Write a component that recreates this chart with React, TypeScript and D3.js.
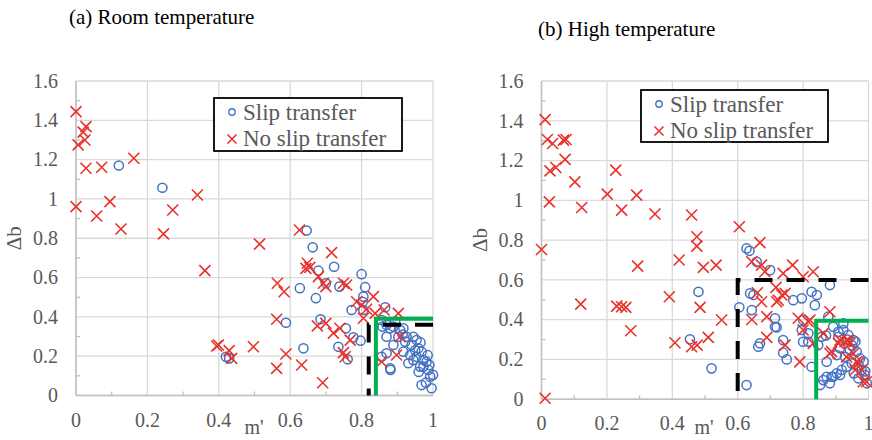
import React from 'react'
import * as d3 from 'd3'

// (a) room temperature, [m', Δb]
const roomSlip: [number, number][] = [
  [0.12, 1.17], [0.242, 1.057], [0.646, 0.839], [0.663, 0.754], [0.679, 0.635], [0.723, 0.655],
  [0.8, 0.617], [0.627, 0.546], [0.672, 0.495], [0.7, 0.571], [0.738, 0.554], [0.81, 0.551],
  [0.805, 0.503], [0.803, 0.477], [0.772, 0.435], [0.805, 0.435], [0.866, 0.449], [0.588, 0.37],
  [0.685, 0.388], [0.756, 0.342], [0.777, 0.296], [0.797, 0.279], [0.735, 0.248], [0.761, 0.184],
  [0.42, 0.197], [0.429, 0.189], [0.637, 0.24], [0.881, 0.13], [0.87, 0.215], [0.856, 0.197],
  [0.859, 0.35], [0.88, 0.342], [0.917, 0.342], [0.926, 0.299], [0.87, 0.359], [0.889, 0.35],
  [0.908, 0.333], [0.87, 0.299], [0.889, 0.257], [0.922, 0.274], [0.94, 0.257], [0.959, 0.24],
  [0.968, 0.223], [0.954, 0.197], [0.973, 0.181], [0.936, 0.206], [0.931, 0.164], [0.973, 0.147],
  [0.987, 0.13], [0.992, 0.096], [0.968, 0.053], [0.996, 0.037], [0.88, 0.138], [0.917, 0.223],
  [0.903, 0.299], [0.954, 0.282], [0.945, 0.299], [0.982, 0.172], [0.964, 0.147], [0.95, 0.23],
  [0.965, 0.27], [0.945, 0.18], [0.985, 0.205], [0.99, 0.155], [1.0, 0.105], [0.98, 0.065],
  [0.915, 0.31], [0.96, 0.12], [0.856, 0.384], [0.894, 0.376],
]
const roomNoSlip: [number, number][] = [
  [0.0, 1.444], [0.028, 1.368], [0.02, 1.34], [0.025, 1.3], [0.006, 1.275], [0.028, 1.156],
  [0.072, 1.161], [0.162, 1.207], [0.0, 0.961], [0.058, 0.913], [0.095, 0.986], [0.126, 0.847],
  [0.245, 0.822], [0.271, 0.944], [0.34, 1.02], [0.361, 0.635], [0.394, 0.252], [0.626, 0.842],
  [0.514, 0.77], [0.716, 0.727], [0.648, 0.673], [0.644, 0.647], [0.655, 0.652], [0.679, 0.605],
  [0.564, 0.571], [0.583, 0.528], [0.693, 0.571], [0.7, 0.554], [0.749, 0.571], [0.758, 0.562],
  [0.786, 0.477], [0.833, 0.503], [0.8, 0.46], [0.814, 0.439], [0.838, 0.418], [0.863, 0.435],
  [0.903, 0.418], [0.805, 0.393], [0.562, 0.388], [0.676, 0.354], [0.7, 0.367], [0.721, 0.317],
  [0.739, 0.342], [0.768, 0.282], [0.749, 0.218], [0.754, 0.197], [0.399, 0.257], [0.429, 0.228],
  [0.436, 0.189], [0.497, 0.248], [0.588, 0.211], [0.562, 0.138], [0.632, 0.155], [0.691, 0.065],
  [0.856, 0.172], [0.898, 0.206], [0.908, 0.299],
]

// (b) high temperature
const highSlip: [number, number][] = [
  [0.627, 0.758], [0.636, 0.746], [0.658, 0.691], [0.699, 0.649], [0.882, 0.574], [0.48, 0.54],
  [0.605, 0.462], [0.638, 0.532], [0.648, 0.524], [0.643, 0.448], [0.714, 0.407], [0.719, 0.361],
  [0.77, 0.498], [0.796, 0.507], [0.826, 0.54], [0.842, 0.524], [0.836, 0.473], [0.8, 0.398],
  [0.796, 0.348], [0.668, 0.281], [0.663, 0.264], [0.739, 0.297], [0.739, 0.234], [0.75, 0.2],
  [0.52, 0.155], [0.454, 0.301], [0.627, 0.071], [0.846, 0.272], [0.872, 0.188], [0.852, 0.071],
  [0.862, 0.096], [0.892, 0.113], [0.913, 0.122], [0.877, 0.415], [0.714, 0.364], [0.8, 0.289],
  [0.816, 0.289], [0.816, 0.331], [0.826, 0.163], [0.857, 0.314], [0.872, 0.113], [0.887, 0.113],
  [0.903, 0.13], [0.882, 0.08], [0.918, 0.147], [0.933, 0.163], [0.949, 0.18], [0.908, 0.339],
  [0.923, 0.348], [0.938, 0.323], [0.954, 0.297], [0.943, 0.247], [0.964, 0.239], [0.974, 0.205],
  [0.979, 0.147], [0.989, 0.122], [0.995, 0.08], [0.969, 0.105], [0.913, 0.256], [0.928, 0.213],
  [0.903, 0.222], [0.923, 0.381], [0.892, 0.364], [0.908, 0.314], [0.95, 0.27], [0.97, 0.17],
  [0.985, 0.19], [0.96, 0.29], [0.99, 0.14], [0.935, 0.3], [0.955, 0.13], [0.87, 0.32],
]
const highNoSlip: [number, number][] = [
  [0.011, 1.406], [0.018, 1.306], [0.034, 1.286], [0.067, 1.303], [0.075, 1.306], [0.072, 1.206],
  [0.026, 1.148], [0.044, 1.165], [0.102, 1.093], [0.024, 0.992], [0.123, 0.964], [0.201, 1.031],
  [0.227, 1.152], [0.245, 0.951], [0.291, 1.026], [0.347, 0.931], [0.0, 0.753], [0.12, 0.478],
  [0.23, 0.468], [0.245, 0.465], [0.258, 0.462], [0.273, 0.344], [0.294, 0.669], [0.011, 0.005],
  [0.459, 0.926], [0.475, 0.817], [0.475, 0.77], [0.605, 0.867], [0.668, 0.787], [0.421, 0.7],
  [0.495, 0.663], [0.534, 0.674], [0.643, 0.691], [0.673, 0.674], [0.683, 0.641], [0.739, 0.633],
  [0.768, 0.674], [0.8, 0.616], [0.831, 0.641], [0.391, 0.515], [0.485, 0.462], [0.551, 0.398],
  [0.66, 0.535], [0.673, 0.49], [0.643, 0.401], [0.689, 0.415], [0.717, 0.562], [0.724, 0.498],
  [0.745, 0.532], [0.785, 0.407], [0.816, 0.39], [0.689, 0.311], [0.745, 0.272], [0.79, 0.188],
  [0.408, 0.284], [0.459, 0.264], [0.476, 0.272], [0.51, 0.311], [0.862, 0.331], [0.882, 0.23],
  [0.908, 0.281], [0.938, 0.297], [0.954, 0.23], [0.969, 0.18], [0.979, 0.147], [0.994, 0.088],
  [0.735, 0.524], [0.719, 0.49], [0.882, 0.44], [0.8, 0.348], [0.821, 0.398], [0.831, 0.281],
  [0.887, 0.239], [0.913, 0.297], [0.928, 0.289], [0.943, 0.281], [0.933, 0.213], [0.964, 0.188],
  [0.959, 0.147], [0.984, 0.088],
]

// threshold boxes: [m', Δb] corners
const roomBlack: [number, number][] = [[1, 0.36], [0.82, 0.36], [0.82, 0]]
const roomGreen: [number, number][] = [[1, 0.39], [0.84, 0.39], [0.84, 0]]
const highBlack: [number, number][] = [[1, 0.6], [0.6, 0.6], [0.6, 0]]
const highGreen: [number, number][] = [[1, 0.395], [0.84, 0.395], [0.84, 0]]

const xTicks = [0, 0.2, 0.4, 0.6, 0.8, 1]
const yTicks = [0, 0.2, 0.4, 0.6, 0.8, 1, 1.2, 1.4, 1.6]
const minorX = [0.1, 0.3, 0.5, 0.7, 0.9]
const minorY = [0.1, 0.3, 0.5, 0.7, 0.9, 1.1, 1.3, 1.5]

const FONT = 'Liberation Serif'
const GRAY = '#595959'
const RED = '#e8322b'
const BLUE = '#4472c4'

function Cross({ x, y, s }: { x: number; y: number; s: number }) {
  return (
    <path d={`M${x - s},${y - s}L${x + s},${y + s}M${x - s},${y + s}L${x + s},${y - s}`}
      stroke={RED} strokeWidth={1.6} fill="none" />
  )
}

function Panel(props: {
  left: number; right: number; top: number; bottom: number
  title: string; titleX: number; titleY: number; labelX: number
  slip: [number, number][]; noSlip: [number, number][]
  black: [number, number][]; green: [number, number][]
  legend: { x: number; y: number; w: number; h: number }
}) {
  const { left, right, top, bottom, slip, noSlip, black, green, legend } = props
  const x = d3.scaleLinear().domain([0, 1]).range([left, right])
  const y = d3.scaleLinear().domain([0, 1.6]).range([bottom, top])
  const line = d3.line<[number, number]>().x(d => x(d[0])).y(d => y(d[1]))

  return (
    <g>
      <text x={props.titleX} y={props.titleY} fontFamily={FONT} fontSize={21} fill="#000">{props.title}</text>
      {xTicks.map(t => (
        <line key={'gx' + t} x1={x(t)} x2={x(t)} y1={top} y2={bottom} stroke="#d9d9d9" strokeWidth={1.3} />
      ))}
      {yTicks.map(t => (
        <line key={'gy' + t} x1={left} x2={right} y1={y(t)} y2={y(t)} stroke="#d9d9d9" strokeWidth={1.3} />
      ))}
      <line x1={left} x2={left} y1={top} y2={bottom} stroke="#bfbfbf" strokeWidth={1.5} />
      <line x1={left} x2={right} y1={bottom} y2={bottom} stroke="#bfbfbf" strokeWidth={1.5} />
      {minorX.map(t => (
        <line key={'mx' + t} x1={x(t)} x2={x(t)} y1={bottom} y2={bottom - 4} stroke="#bfbfbf" strokeWidth={1.3} />
      ))}
      {minorY.map(t => (
        <line key={'my' + t} x1={left} x2={left + 4} y1={y(t)} y2={y(t)} stroke="#bfbfbf" strokeWidth={1.3} />
      ))}
      {xTicks.map(t => (
        <text key={'tx' + t} x={x(t)} y={bottom + 31} textAnchor="middle" fontFamily={FONT} fontSize={20} fill={GRAY}>
          {d3.format('~g')(t)}
        </text>
      ))}
      {yTicks.map(t => (
        <text key={'ty' + t} x={left - 18} y={y(t)} dy="0.34em" textAnchor="end" fontFamily={FONT} fontSize={20} fill={GRAY}>
          {d3.format('~g')(t)}
        </text>
      ))}
      <text transform={`translate(${left - 55},${(top + bottom) / 2}) rotate(-90)`} textAnchor="middle"
        fontFamily={FONT} fontSize={21} fill={GRAY}>Δb</text>
      <text x={props.labelX} y={434} textAnchor="middle"
        fontFamily={FONT} fontSize={20} fill={GRAY}>m'</text>

      {slip.map((d, i) => (
        <circle key={'s' + i} cx={x(d[0])} cy={y(d[1])} r={4.6} fill="none" stroke={BLUE} strokeWidth={1.5} />
      ))}
      {noSlip.map((d, i) => (
        <Cross key={'n' + i} x={x(d[0])} y={y(d[1])} s={5.5} />
      ))}

      <path d={line(black) || ''} fill="none" stroke="#000" strokeWidth={4} strokeDasharray="18 14" />
      <path d={line(green) || ''} fill="none" stroke="#00b050" strokeWidth={4} />

      <rect x={legend.x} y={legend.y} width={legend.w} height={legend.h} fill="#fff" stroke="#000" strokeWidth={1.8} />
      <circle cx={legend.x + 18} cy={legend.y + 14} r={3.2} fill="none" stroke={BLUE} strokeWidth={1.4} />
      <text x={legend.x + 29} y={legend.y + 21.5} fontFamily={FONT} fontSize={23} fill={GRAY}>Slip transfer</text>
      <Cross x={legend.x + 18} y={legend.y + 41} s={4.5} />
      <text x={legend.x + 29} y={legend.y + 47.5} fontFamily={FONT} fontSize={23} fill={GRAY}>No slip transfer</text>
    </g>
  )
}

export default function App() {
  return (
    <svg width={872} height={440} style={{ position: 'absolute', left: 0, top: 0, background: '#fff' }}>
      <Panel left={76} right={433} top={81} bottom={395.5}
        title="(a) Room temperature" titleX={69} titleY={24} labelX={254}
        slip={roomSlip} noSlip={roomNoSlip} black={roomBlack} green={roomGreen}
        legend={{ x: 214, y: 98, w: 188, h: 53 }} />
      <Panel left={541.5} right={868.5} top={81} bottom={399.2}
        title="(b) High temperature" titleX={538} titleY={36} labelX={704}
        slip={highSlip} noSlip={highNoSlip} black={highBlack} green={highGreen}
        legend={{ x: 641, y: 90, w: 187, h: 52 }} />
    </svg>
  )
}
